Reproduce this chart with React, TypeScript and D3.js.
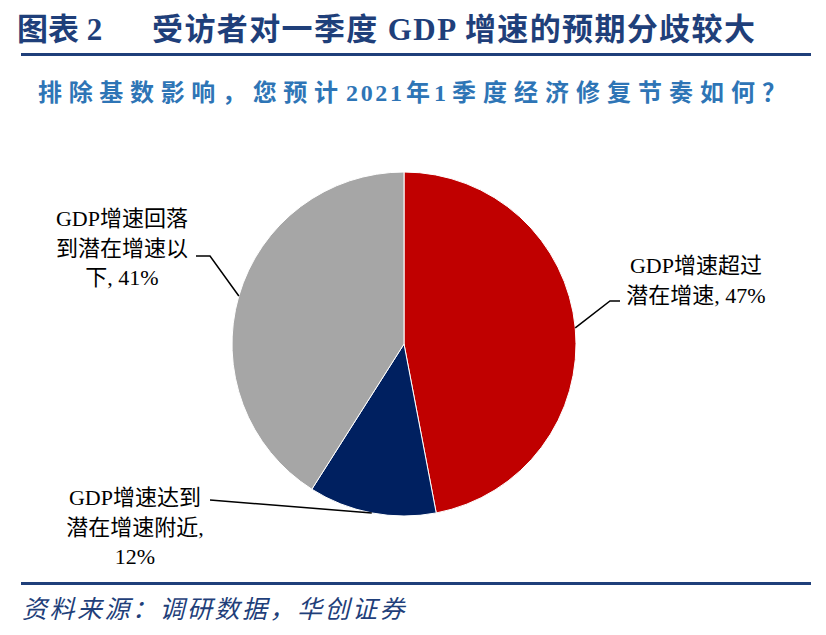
import * as d3 from "d3";

const categories = ["GDP增速超过潜在增速", "GDP增速达到潜在增速附近", "GDP增速回落到潜在增速以下"];
const values = [47, 12, 41];
const colors = ["#c00000", "#002060", "#a6a6a6"];
const labelLines = [
  ["GDP增速超过", "潜在增速, 47%"],
  ["GDP增速达到", "潜在增速附近,", "12%"],
  ["GDP增速回落", "到潜在增速以", "下, 41%"],
];

const W = 826;
const H = 635;
const cx = 404;
const cy = 344;
const R = 172;
const serif = "'Liberation Serif', 'Times New Roman', 'Noto Sans CJK SC', serif";
const navy = "#1f3f7a";

type Datum = { name: string; value: number; color: string; lines: string[] };

const data: Datum[] = categories.map((c, i) => ({
  name: c,
  value: values[i],
  color: colors[i],
  lines: labelLines[i],
}));

// label layout: text anchor + leader elbow
const layout = [
  { tx: 696, ty: 273, elbow: [610, 301], end: [620, 301] },
  { tx: 135, ty: 505, elbow: null, end: [210, 500] },
  { tx: 122, ty: 226, elbow: [210, 256], end: [196, 256] },
];

// subtitle pieces with their start x
const subtitleParts = [
  { t: "排除基数影响，您预计", x: 38, len: 300 },
  { t: "2021", x: 346, len: 56 },
  { t: "年", x: 406, len: 24 },
  { t: "1", x: 434, len: 12 },
  { t: "季度经济修复节奏如何？", x: 452, len: 334 },
];

const App = () => {
  const pie = d3
    .pie<Datum>()
    .sort(null)
    .value((d) => d.value);
  const arcs = pie(data);
  const arc = d3.arc<d3.PieArcDatum<Datum>>().innerRadius(0).outerRadius(R);

  return (
    <svg width={W} height={H} style={{ position: "absolute", left: 0, top: 0, background: "#fff" }}>
      <text x={17} y={40} fontFamily={serif} fontWeight="bold" fontSize={31} fill={navy}>
        图表 2
      </text>
      <text
        x={152}
        y={40}
        fontFamily={serif}
        fontWeight="bold"
        fontSize={31}
        fill={navy}
        textLength={603}
        lengthAdjust="spacing"
      >
        受访者对一季度 GDP 增速的预期分歧较大
      </text>
      <rect x={21} y={53} width={790} height={3} fill={navy} />
      {subtitleParts.map((p, i) => (
        <text
          key={i}
          x={p.x}
          y={101}
          fontFamily={serif}
          fontWeight="bold"
          fontSize={24}
          fill="#2e75b6"
          textLength={p.len}
          lengthAdjust="spacing"
        >
          {p.t}
        </text>
      ))}

      <g transform={`translate(${cx},${cy})`}>
        {arcs.map((a, i) => (
          <path key={i} d={arc(a) ?? undefined} fill={a.data.color} stroke="#fff" strokeWidth={1} />
        ))}
      </g>

      {arcs.map((a, i) => {
        const mid = (a.startAngle + a.endAngle) / 2;
        const sx = cx + R * Math.sin(mid);
        const sy = cy - R * Math.cos(mid);
        const l = layout[i];
        const pts: number[][] = [[sx, sy]];
        if (l.elbow) pts.push(l.elbow);
        pts.push(l.end);
        const line = d3.line()(pts as [number, number][]);
        return <path key={i} d={line ?? undefined} fill="none" stroke="#000" strokeWidth={1.5} />;
      })}

      {arcs.map((a, i) => {
        const l = layout[i];
        return (
          <text key={i} fontFamily={serif} fontSize={22} fill="#000" textAnchor="middle">
            {a.data.lines.map((t, j) => (
              <tspan key={j} x={l.tx} y={l.ty + j * 29.5}>
                {t}
              </tspan>
            ))}
          </text>
        );
      })}

      <rect x={21} y={582} width={790} height={3} fill={navy} />
      <text
        x={22}
        y={618}
        fontFamily={serif}
        fontStyle="italic"
        fontSize={25}
        fill={navy}
        letterSpacing={2.5}
      >
        资料来源：调研数据，华创证券
      </text>
    </svg>
  );
};

export default App;
